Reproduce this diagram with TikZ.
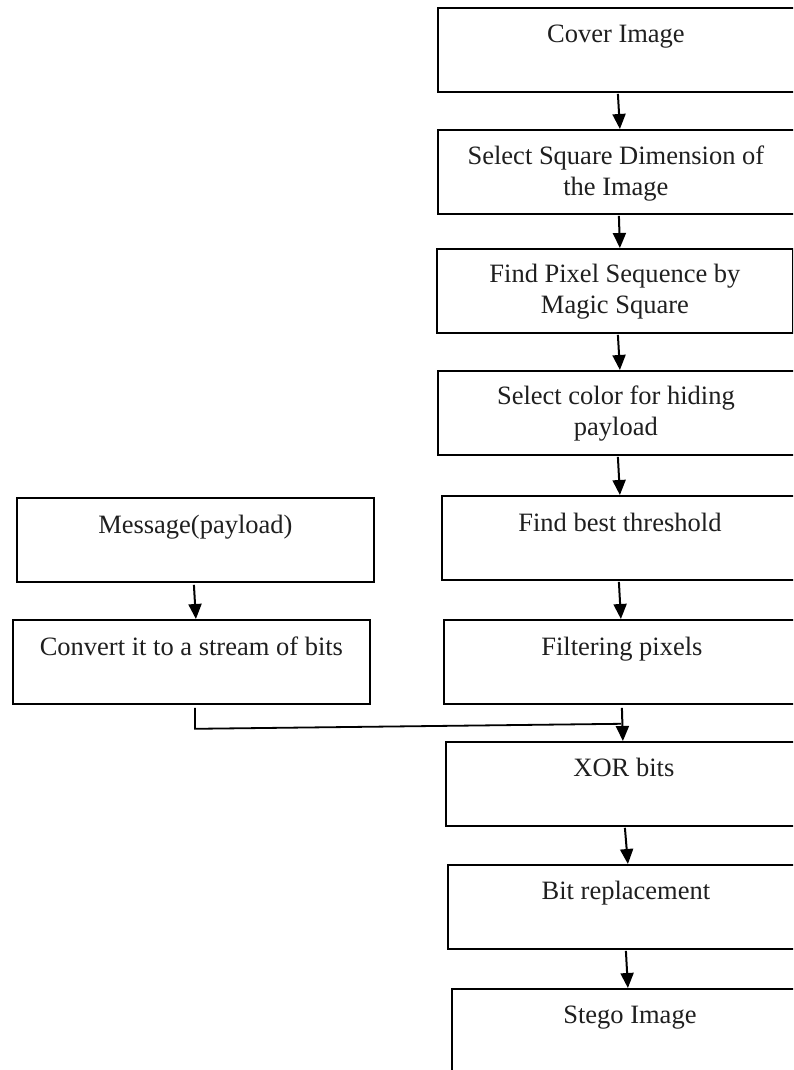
\documentclass[tikz,border=0pt]{standalone}
\usepackage{fontspec}
\setmainfont{Liberation Serif}
\usetikzlibrary{arrows.meta}
\begin{document}
\begin{tikzpicture}[x=1pt,y=-1pt,
  box/.style={draw=black, line width=1.8pt, minimum width=359pt, minimum height=84pt, anchor=north west, inner sep=0pt},
  lbl/.style={anchor=base, inner sep=0pt, font=\fontsize{26.5}{31.5}\selectfont, text=black!88},
  arr/.style={line width=2pt, -{Triangle[length=15pt,width=13pt]}},
  link/.style={line width=1.8pt}]
\useasboundingbox (0,0) rectangle (793,1070);
\clip (0,0) rectangle (793,1070);
\fill[white] (0,0) rectangle (793,1070);
% right column boxes
\node[box] (b1) at (437,7) {};
\node[box] (b2) at (437,129) {};
\node[box, minimum width=356pt] (b3) at (436,248) {};
\node[box] (b4) at (437,370) {};
\node[box] (b5) at (441,495) {};
\node[box] (b6) at (443,619) {};
\node[box] (b7) at (445,741) {};
\node[box] (b8) at (447,864) {};
\node[box] (b9) at (451,988) {};
% left column boxes
\node[box, minimum width=357pt] (m1) at (16,497) {};
\node[box, minimum width=357pt] (m2) at (12,619) {};
% labels
\def\two#1#2{\begin{tabular}[t]{@{}c@{}}#1\\#2\end{tabular}}
\node[lbl] (t1) at ([xshift=-1.5pt,yshift=-36pt]b1.north) {Cover Image};
\node[lbl] (t2) at ([xshift=-1.5pt,yshift=-35pt]b2.north) {\two{Select Square Dimension of}{the Image}};
\node[lbl] (t3) at ([yshift=-34pt]b3.north) {\two{Find Pixel Sequence by}{Magic Square}};
\node[lbl] (t4) at ([xshift=-1.5pt,yshift=-34pt]b4.north) {\two{Select color for hiding}{payload}};
\node[lbl] (t5) at ([xshift=-1.5pt,yshift=-36pt]b5.north) {Find best threshold};
\node[lbl] (t6) at ([xshift=-1.5pt,yshift=-36pt]b6.north) {Filtering pixels};
\node[lbl] (t7) at ([xshift=-1.5pt,yshift=-35pt]b7.north) {XOR bits};
\node[lbl] (t8) at ([xshift=-1.5pt,yshift=-35pt]b8.north) {Bit replacement};
\node[lbl] (t9) at ([xshift=-1.5pt,yshift=-35pt]b9.north) {Stego Image};
\node[lbl] (tm1) at ([yshift=-36pt]m1.north) {Message(payload)};
\node[lbl] (tm2) at ([yshift=-36pt]m2.north) {Convert it to a stream of bits};
% arrows
\draw[arr] ([xshift=0.5pt,yshift=-1pt]b1.south) -- ([xshift=2.5pt]b2.north);
\draw[arr] ([xshift=1.5pt,yshift=-1pt]b2.south) -- ([xshift=5pt]b3.north);
\draw[arr] ([xshift=3pt,yshift=-1pt]b3.south) -- ([xshift=2.5pt]b4.north);
\draw[arr] ([xshift=0.5pt,yshift=-1pt]b4.south) -- ([xshift=-1.5pt]b5.north);
\draw[arr] ([xshift=-2.5pt,yshift=-1pt]b5.south) -- ([xshift=-2.5pt]b6.north);
\draw[arr] ([xshift=-1.5pt,yshift=-2pt]m1.south) -- ([xshift=4.5pt]m2.north);
\draw[arr] ([xshift=-1.5pt,yshift=-3pt]b6.south) -- ([xshift=-2.5pt]b7.north);
\draw[arr] ([xshift=-0.5pt,yshift=-1pt]b7.south) -- ([xshift=0.5pt]b8.north);
\draw[arr] ([xshift=-1.5pt,yshift=-1pt]b8.south) -- ([xshift=-3.5pt]b9.north);
% merge line from the message branch
\coordinate (mj) at ([xshift=-2.5pt,yshift=-19pt]b6.south);
\coordinate (mc) at ([xshift=3.5pt,yshift=-24pt]m2.south);
\draw[link] ([xshift=3.5pt,yshift=-3pt]m2.south) -- (mc) -- (mj);
\end{tikzpicture}
\end{document}
